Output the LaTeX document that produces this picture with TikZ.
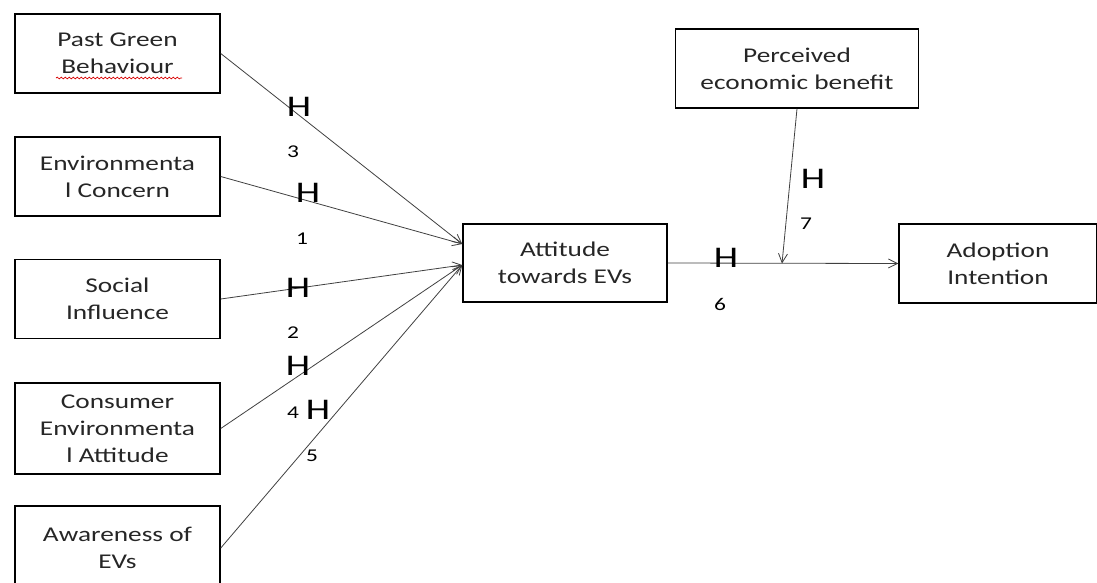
\documentclass[tikz,border=0pt]{standalone}
\usepackage{fontspec}
\setmainfont{Carlito}[FakeStretch=1.3]
\usetikzlibrary{arrows.meta,decorations.pathmorphing}
\begin{document}
\begin{tikzpicture}[x=1pt,y=-1pt,
  box/.style={draw=black,line width=1.5pt,inner sep=0pt,align=center,
    minimum width=205pt,minimum height=79pt,font=\fontsize{21}{27}\selectfont,text=black!85},
  conn/.style={draw=black!75,line width=0.8pt,-{Straight Barb[length=9pt,width=9pt,line width=0.8pt]}},
  hlab/.style={inner sep=0pt,font=\fontsize{30}{30}\selectfont},
  nlab/.style={inner sep=0pt,font=\fontsize{18}{18}\selectfont}]
\useasboundingbox (0,0) rectangle (1097,582);
% left boxes
\node[box] (pgb) at (117.5,53.5) {Past Green\\Behaviour};
\node[box] (env) at (117.5,176.5) {Environmenta\\l Concern};
\node[box] (soc) at (117.5,299) {Social\\Influence};
\node[box,minimum height=91pt] (cons) at (117.5,428.5) {Consumer\\Environmenta\\l Attitude};
\node[box,minimum height=84pt] (aw) at (117.5,548) {Awareness of\\EVs};
% middle and right boxes
\node[box,minimum width=204pt,minimum height=78pt] (att) at (565,263) {Attitude\\towards EVs};
\node[box,minimum width=243pt,minimum height=79pt] (peb) at (797,68.5) {Perceived\\economic benefit};
\node[box,minimum width=198pt,minimum height=79pt] (adopt) at (998,263.5) {Adoption\\Intention};
% spell-check underline
\draw[red!85!black,line width=0.7pt,decorate,decoration={snake,amplitude=0.9pt,segment length=4pt}] (56,78) -- (182,78);
% connectors
\draw[conn] (pgb.east) -- ([yshift=19pt]att.west);
\draw[conn] (env.east) -- ([yshift=19pt]att.west);
\draw[conn] (soc.east) -- ([yshift=-2pt]att.west);
\draw[conn] (cons.east) -- ([yshift=-2pt]att.west);
\draw[conn] (aw.east) -- ([yshift=-2pt]att.west);
\draw[conn] (att.east) -- (adopt.west);
\coordinate (m) at (782,263.5);
\draw[conn] (peb.south) -- (m);
% labels
\node[hlab] (h3) at (299,107) {H};
\node[nlab] (n3) at (293,152) {3};
\node[hlab] (h1) at (308,193) {H};
\node[nlab] (n1) at (302,239) {1};
\node[hlab] (h2) at (298,288) {H};
\node[nlab] (n2) at (293,333) {2};
\node[hlab] (h4) at (298,366) {H};
\node[nlab] (n4) at (293,413) {4};
\node[hlab] (h5) at (318,410) {H};
\node[nlab] (n5) at (312,456) {5};
\node[hlab] (h6) at (726,258) {H};
\node[nlab] (n6) at (720,304) {6};
\node[hlab] (h7) at (813,179) {H};
\node[nlab] (n7) at (806,224) {7};
\end{tikzpicture}
\end{document}
